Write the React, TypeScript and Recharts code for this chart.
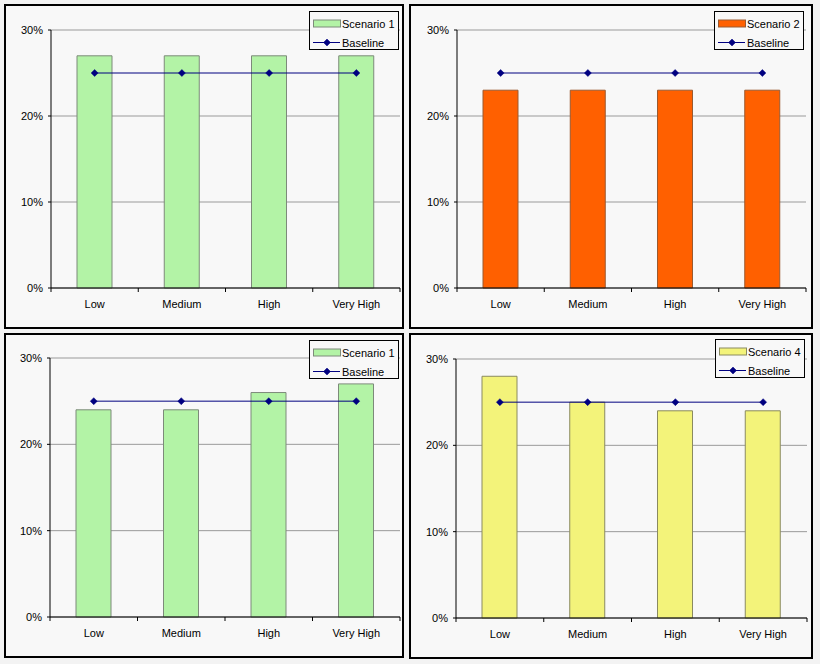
import React from 'react';
import { ComposedChart, Bar, Line, XAxis, YAxis, CartesianGrid, Legend } from 'recharts';

const categories = ['Low', 'Medium', 'High', 'Very High'];
const baseline = [25, 25, 25, 25];
const scenario1Top = [27, 27, 27, 27];
const scenario2 = [23, 23, 23, 23];
const scenario1Bottom = [24, 24, 26, 27];
const scenario4 = [28, 25, 24, 24];
const yTicks = [0, 10, 20, 30];

const FONT = '"Liberation Sans", Arial, sans-serif';
const NAVY = '#000080';

type Panel = {
  key: string;
  name: string;
  values: number[];
  fill: string;
  stroke: string;
  left: number;
  top: number;
  width: number;
  height: number;
  plot: { l: number; r: number; t: number; b: number };
  legend: { left: number; top: number };
};

const panels: Panel[] = [
  { key: 'tl', name: 'Scenario 1', values: scenario1Top, fill: '#b3f3a6', stroke: '#7d8a7a', left: 4, top: 4, width: 400, height: 325, plot: { l: 47, r: 396, t: 26, b: 284 }, legend: { left: 305, top: 7 } },
  { key: 'tr', name: 'Scenario 2', values: scenario2, fill: '#ff6000', stroke: '#9a5a30', left: 409, top: 4, width: 404, height: 325, plot: { l: 48, r: 397, t: 26, b: 284 }, legend: { left: 305, top: 7 } },
  { key: 'bl', name: 'Scenario 1', values: scenario1Bottom, fill: '#b3f3a6', stroke: '#7d8a7a', left: 4, top: 333, width: 400, height: 325, plot: { l: 46, r: 396, t: 25, b: 284 }, legend: { left: 305, top: 7 } },
  { key: 'br', name: 'Scenario 4', values: scenario4, fill: '#f3f37a', stroke: '#8a8a60', left: 409, top: 333, width: 404, height: 326, plot: { l: 47, r: 398, t: 26, b: 285 }, legend: { left: 306, top: 6 } },
];

const Diamond = (props: any) => {
  const { cx, cy } = props;
  if (cx == null || cy == null) return null;
  const r = 3.5;
  return (
    <polygon
      points={`${cx},${cy - r} ${cx + r},${cy} ${cx},${cy + r} ${cx - r},${cy}`}
      fill={NAVY}
      stroke={NAVY}
      strokeWidth={0.5}
    />
  );
};

const makeTick = (band: number) => (props: any) => {
  const { x, y, payload, index } = props;
  const last = index === categories.length - 1;
  return (
    <g>
      <line x1={x - band / 2} y1={y} x2={x - band / 2} y2={y + 4} stroke="#000" />
      {last && <line x1={x + band / 2} y1={y} x2={x + band / 2} y2={y + 4} stroke="#000" />}
      <text x={x} y={y + 20} textAnchor="middle" fontSize={11} fontFamily={FONT} fill="#000">
        {payload.value}
      </text>
    </g>
  );
};

const makeLegend = (p: Panel) => (props: any) => {
  const raw = props.payload || [];
  const payload = [...raw.filter((e: any) => e.type !== 'line'), ...raw.filter((e: any) => e.type === 'line')];
  const w = 90;
  const h = 39;
  return (
    <svg width={w} height={h} style={{ display: 'block' }}>
      <rect x={0.5} y={0.5} width={w - 1} height={h - 1} fill="#f8f8f8" stroke="#000" strokeWidth={1} />
      {payload.map((entry: any, i: number) => {
        const cy = i === 0 ? 12.5 : 31.5;
        const isLine = entry.type === 'line';
        return (
          <g key={i}>
            {isLine ? (
              <g>
                <line x1={4} y1={cy} x2={31} y2={cy} stroke={NAVY} strokeWidth={1} />
                <Diamond cx={18} cy={cy} />
              </g>
            ) : (
              <rect x={4.5} y={cy - 3.5} width={27} height={7} fill={p.fill} stroke={p.stroke} strokeWidth={1} />
            )}
            <text x={33} y={cy + 4} fontSize={11} fontFamily={FONT} fill="#000">
              {entry.value}
            </text>
          </g>
        );
      })}
    </svg>
  );
};

const ChartPanel = ({ p }: { p: Panel }) => {
  const data = categories.map((c, i) => ({ category: c, scenario: p.values[i], baseline: baseline[i] }));
  const xAxisHeight = 30;
  const band = (p.plot.r - p.plot.l) / categories.length;
  return (
    <div
      style={{
        position: 'absolute',
        left: p.left,
        top: p.top,
        width: p.width,
        height: p.height,
        background: '#f8f8f8',
      }}
    >
      <ComposedChart
        width={p.width}
        height={p.height}
        data={data}
        margin={{ top: p.plot.t, right: p.width - p.plot.r, bottom: p.height - p.plot.b - xAxisHeight, left: 0 }}
      >
        <CartesianGrid vertical={false} stroke="#9a9a9a" strokeWidth={1} />
        <XAxis
          dataKey="category"
          height={xAxisHeight}
          axisLine={{ stroke: '#000', strokeWidth: 1 }}
          tickLine={false}
          tickSize={0}
          tickMargin={0}
          interval={0}
          tick={makeTick(band)}
        />
        <YAxis
          width={p.plot.l}
          domain={[0, 30]}
          ticks={yTicks}
          tickFormatter={(v: number) => `${v}%`}
          axisLine={{ stroke: '#000', strokeWidth: 1 }}
          tickLine={{ stroke: '#000' }}
          tickSize={3}
          tickMargin={5}
          tick={{ fontSize: 11, fill: '#000', fontFamily: FONT }}
          interval={0}
        />
        <YAxis
          yAxisId="r"
          orientation="right"
          width={0}
          domain={[0, 30]}
          tick={false}
          tickLine={false}
          axisLine={{ stroke: '#9a9a9a', strokeWidth: 1 }}
        />
        <Bar
          dataKey="scenario"
          name={p.name}
          fill={p.fill}
          stroke={p.stroke}
          strokeWidth={1}
          barSize={35}
          isAnimationActive={false}
          legendType="rect"
        />
        <Line
          dataKey="baseline"
          name="Baseline"
          stroke={NAVY}
          strokeWidth={1}
          dot={<Diamond />}
          activeDot={false}
          isAnimationActive={false}
          legendType="line"
        />
        <Legend
          layout="vertical"
          align="center"
          verticalAlign="middle"
          content={makeLegend(p)}
          wrapperStyle={{ position: 'absolute', left: p.legend.left, top: p.legend.top, width: 90, height: 39 }}
        />
      </ComposedChart>
      <div
        style={{
          position: 'absolute',
          left: 0,
          top: 0,
          width: p.width,
          height: p.height,
          border: '2px solid #000',
          boxSizing: 'border-box',
          pointerEvents: 'none',
        }}
      />
    </div>
  );
}

export default function App() {
  return (
    <div style={{ position: 'absolute', left: 0, top: 0, width: 820, height: 664, background: '#f3f3f3', overflow: 'hidden' }}>
      {panels.map((p) => (
        <ChartPanel key={p.key} p={p} />
      ))}
    </div>
  );
}
